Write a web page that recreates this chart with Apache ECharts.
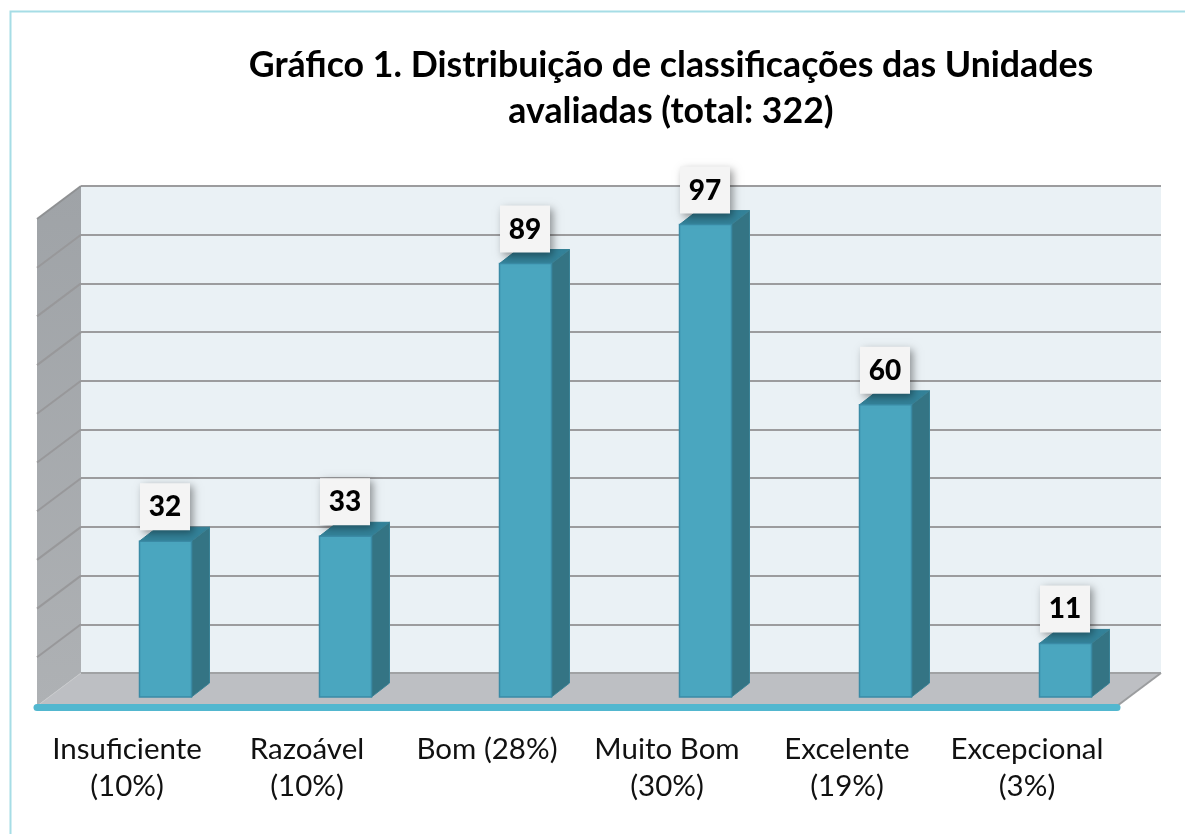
<!DOCTYPE html>
<html><head><meta charset="utf-8">
<style>html,body{margin:0;padding:0;background:#fff}#c{width:1185px;height:834px}</style>
<script src="https://cdn.jsdelivr.net/npm/echarts@6/dist/echarts.min.js"></script>
</head><body><div id="c"></div>
<script>
const titleLines = ['Gráfico 1. Distribuição de classificações das Unidades', 'avaliadas (total: 322)'];
const categories = ['Insuficiente\n(10%)', 'Razoável\n(10%)', 'Bom (28%)', 'Muito Bom\n(30%)', 'Excelente\n(19%)', 'Excepcional\n(3%)'];
const values = [32, 33, 89, 97, 60, 11];
const yTicks = [0, 10, 20, 30, 40, 50, 60, 70, 80, 90, 100];

const DX = 44, DY = 33;           // depth of chart floor
const FONT = 'Lato, "Open Sans", sans-serif';

function renderWalls(params, api) {
  const cs = params.coordSys;
  const l = cs.x, r = cs.x + cs.width, t = cs.y, b = cs.y + cs.height;
  const children = [
    { type: 'polygon', shape: { points: [[l, t], [l, b], [l - DX, b + DY], [l - DX, t + DY]] },
      style: { fill: { type: 'linear', x: 0, y: 0, x2: 0, y2: 1, colorStops: [{ offset: 0, color: '#9fa3a7' }, { offset: 1, color: '#aeb1b4' }] } } },
    { type: 'polygon', shape: { points: [[l, b], [r, b], [r - DX, b + DY], [l - DX, b + DY]] },
      style: { fill: '#bdbfc3' } },
    { type: 'line', shape: { x1: l, y1: b, x2: r, y2: b }, style: { stroke: '#a0a2a4', lineWidth: 2 } },
    { type: 'line', shape: { x1: r, y1: b, x2: r - DX, y2: b + DY }, style: { stroke: '#9b9d9f', lineWidth: 2 } },
    { type: 'line', shape: { x1: l, y1: b, x2: l - DX, y2: b + DY }, style: { stroke: '#c8cacc', lineWidth: 1 } }
  ];
  yTicks.forEach(function (tick) {
    if (tick === 0) return;
    const p = api.coord([0, tick]);
    children.push({ type: 'line', shape: { x1: l, y1: p[1], x2: l - DX, y2: p[1] + DY },
      style: { stroke: tick === 100 ? '#8f9193' : '#98989a', lineWidth: 2 } });
  });
  return { type: 'group', children: children };
}

function renderBar(params, api) {
  const i = api.value(0), v = api.value(1);
  const top = api.coord([i, v]), base = api.coord([i, 0]);
  const x0 = top[0] + 12.5, x1 = top[0] + 64.5;   // front face, in front of the axis tick
  const yT = top[1] - 10, yB = base[1] - 10;
  const dx = 18, dy = 14;
  return { type: 'group', children: [
    { type: 'polygon', shape: { points: [[x0, yT], [x0 + dx, yT - dy], [x1 + dx, yT - dy], [x1, yT]] },
      style: { fill: '#338299', stroke: '#2f7d93', lineWidth: 1 } },
    { type: 'polygon', shape: { points: [[x1, yT], [x1 + dx, yT - dy], [x1 + dx, yB - dy], [x1, yB]] },
      style: { fill: '#347484', stroke: '#3a8296', lineWidth: 1 } },
    { type: 'rect', shape: { x: x0, y: yT, width: x1 - x0, height: yB - yT },
      style: { fill: '#4aa6bf', stroke: '#3a8ba6', lineWidth: 1.5 } },
    { type: 'rect', z2: 5, shape: { x: x0 + 0.5, y: yT - 58, width: 50, height: 47 },
      style: { fill: '#f4f4f4', shadowBlur: 8, shadowOffsetX: 3, shadowOffsetY: 3, shadowColor: 'rgba(0,0,0,0.4)' } },
    { type: 'text', z2: 6, style: { x: x0 + 25.5, y: yT - 34, text: String(v), align: 'center', verticalAlign: 'middle',
      font: '900 28px ' + FONT, fill: '#000' } }
  ] };
}

const chart = echarts.init(document.getElementById('c'));
chart.setOption({
  animation: false,
  backgroundColor: '#fff',
  title: {
    text: titleLines.join('\n'), left: 666, top: 37, textAlign: 'center',
    textStyle: { fontFamily: FONT, fontWeight: 'bold', fontSize: 35.7, lineHeight: 46, color: '#000' }
  },
  graphic: [{ type: 'polyline', silent: true, shape: { points: [[10.5, 834], [10.5, 11.5], [1185, 11.5]] },
    style: { stroke: '#a6dde6', lineWidth: 2, fill: null } }],
  grid: [
    { left: 81, top: 186, width: 1080, height: 487, show: true, backgroundColor: '#eaf1f5', borderWidth: 0 },
    { left: 37, top: 220, width: 1080, height: 487, show: false }
  ],
  xAxis: [
    { gridIndex: 0, type: 'category', data: categories, axisLine: { show: false }, axisTick: { show: false }, axisLabel: { show: false } },
    { gridIndex: 1, type: 'category', data: categories, z: 5,
      axisLine: { lineStyle: { color: '#52b7cf', width: 7, cap: 'round' } }, axisTick: { show: false },
      axisLabel: { interval: 0, margin: 24, fontFamily: FONT, fontSize: 29.5, lineHeight: 37, color: '#111', verticalAlign: 'top' } }
  ],
  yAxis: [
    { gridIndex: 0, type: 'value', min: 0, max: 100, interval: 10, axisLine: { show: false }, axisTick: { show: false }, axisLabel: { show: false },
      splitLine: { lineStyle: { color: '#9c9c9e', width: 2 } } },
    { gridIndex: 1, type: 'value', min: 0, max: 100, interval: 10, axisLine: { show: false }, axisTick: { show: false }, axisLabel: { show: false }, splitLine: { show: false } }
  ],
  series: [
    { type: 'custom', xAxisIndex: 0, yAxisIndex: 0, z: 1, silent: true, renderItem: renderWalls, data: [[0, 0]] },
    { type: 'custom', xAxisIndex: 1, yAxisIndex: 1, z: 2, silent: true, renderItem: renderBar,
      encode: { x: 0, y: 1 }, data: values.map(function (v, i) { return [i, v]; }) }
  ]
});
</script></body></html>
